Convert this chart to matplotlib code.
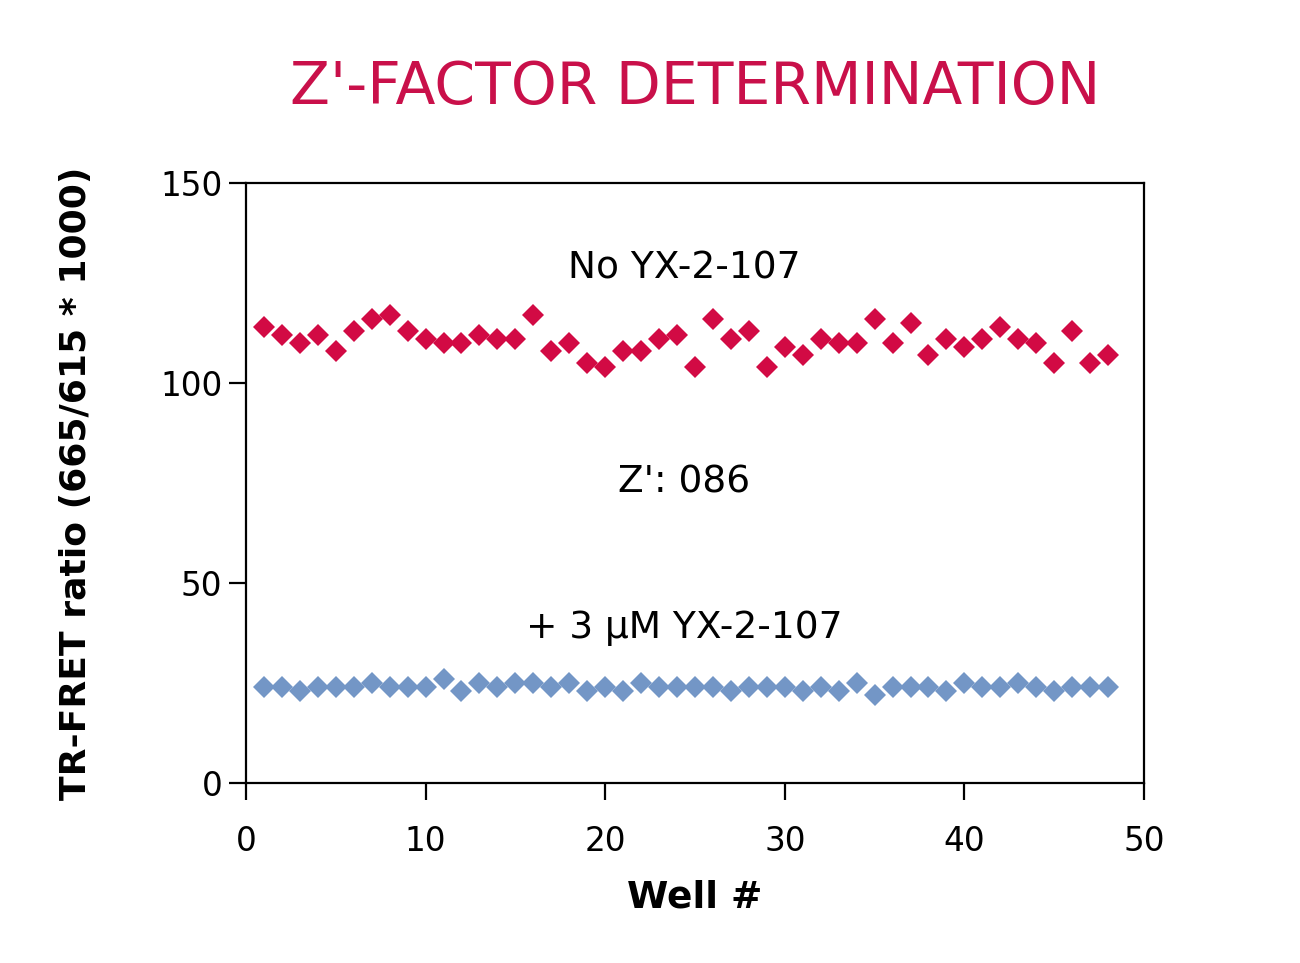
import matplotlib
matplotlib.use("Agg")
import matplotlib.pyplot as plt

plt.rcParams["font.family"] = ["DejaVu Sans"]

# Well numbers 1..48
wells = list(range(1, 49))

# TR-FRET ratio, no compound
no_compound = [
    114, 112, 110, 112, 108, 113, 116, 117, 113, 111, 110, 110,
    112, 111, 111, 117, 108, 110, 105, 104, 108, 108, 111, 112,
    104, 116, 111, 113, 104, 109, 107, 111, 110, 110, 116, 110,
    115, 107, 111, 109, 111, 114, 111, 110, 105, 113, 105, 107,
]

# TR-FRET ratio, + 3 uM YX-2-107
with_compound = [
    24, 24, 23, 24, 24, 24, 25, 24, 24, 24, 26, 23,
    25, 24, 25, 25, 24, 25, 23, 24, 23, 25, 24, 24,
    24, 24, 23, 24, 24, 24, 23, 24, 23, 25, 22, 24,
    24, 24, 23, 25, 24, 24, 25, 24, 23, 24, 24, 24,
]

x_ticks = [0, 10, 20, 30, 40, 50]
y_ticks = [0, 50, 100, 150]

RED = "#D20A44"
BLUE = "#7396C6"
TITLE_RED = "#C9104A"

fig = plt.figure(figsize=(13, 9.63), dpi=100)
ax = fig.add_axes([0.1892, 0.1869, 0.6908, 0.6231])

ax.plot(wells, no_compound, linestyle="none", marker="D", markersize=11.5,
        color=RED, markeredgewidth=0)
ax.plot(wells, with_compound, linestyle="none", marker="D", markersize=11.5,
        color=BLUE, markeredgewidth=0)

ax.set_xlim(0, 50)
ax.set_ylim(0, 150)
ax.set_xticks(x_ticks)
ax.set_yticks(y_ticks)

for s in ax.spines.values():
    s.set_linewidth(1.6)
ax.tick_params(direction="out", length=12, width=1.6, labelsize=23.5)
ax.tick_params(axis="x", pad=18)
ax.tick_params(axis="y", pad=5)

ax.text(24.4, 128.7, "No YX-2-107", ha="center", va="center", fontsize=27)
ax.text(24.4, 75.2, "Z': 086", ha="center", va="center", fontsize=27)
ax.text(24.4, 38.7, "+ 3 µM YX-2-107", ha="center", va="center", fontsize=27)

ax.set_xlabel("Well #", fontsize=27, fontweight="bold")
ax.set_ylabel("TR-FRET ratio (665/615 * 1000)", fontsize=26, fontweight="bold")
ax.xaxis.set_label_coords(0.5, -0.16)
ax.yaxis.set_label_coords(-0.17, 0.5)

fig.text(0.535, 0.909, "Z'-FACTOR DETERMINATION", ha="center", va="center",
         fontsize=42, color=TITLE_RED)

fig.savefig("out.png", dpi=100)
